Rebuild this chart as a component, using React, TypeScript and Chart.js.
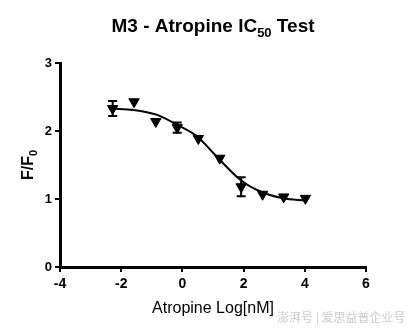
import React, { useEffect, useRef } from "react";
import { Chart, registerables } from "chart.js";

Chart.register(...registerables);

const doseLog = [-2.28, -1.58, -0.87, -0.17, 0.52, 1.22, 1.92, 2.62, 3.31, 4.02];
const meanResponse = [2.33, 2.43, 2.14, 2.05, 1.89, 1.6, 1.18, 1.07, 1.03, 1.01];
const errResponse = [0.11, 0, 0, 0.075, 0, 0, 0.14, 0, 0, 0];

const fitX = [-2.28, -1.6, -0.85, -0.17, 0.48, 1.13, 1.9, 2.55, 3.3, 4.02];
const fitY = [2.33, 2.31, 2.24, 2.09, 1.92, 1.62, 1.28, 1.11, 1.01, 0.975];

const xTicks = [-4, -2, 0, 2, 4, 6];
const yTicks = [0, 1, 2, 3];

const titleMain = "M3 - Atropine IC";
const titleSub = "50";
const titleEnd = " Test";
const xTitle = "Atropine Log[nM]";
const yTitleMain = "F/F";
const yTitleSub = "0";
const watermark = "澎湃号 | 爱思益普企业号";

const FONT = '"Liberation Sans", Arial, sans-serif';

const textPlugin = {
  id: "customText",
  afterDraw(chart: any) {
    const ctx = chart.ctx as CanvasRenderingContext2D;
    const area = chart.chartArea;
    const cx = (area.left + area.right) / 2;
    ctx.save();
    ctx.fillStyle = "#000";
    ctx.textBaseline = "alphabetic";
    ctx.textAlign = "left";
    const big = `bold 19px ${FONT}`;
    const small = `bold 13px ${FONT}`;
    ctx.font = big;
    const w1 = ctx.measureText(titleMain).width;
    const w3 = ctx.measureText(titleEnd).width;
    ctx.font = small;
    const w2 = ctx.measureText(titleSub).width;
    let x = cx - (w1 + w2 + w3) / 2;
    const by = 32;
    ctx.font = big;
    ctx.fillText(titleMain, x, by);
    x += w1;
    ctx.font = small;
    ctx.fillText(titleSub, x, by + 5);
    x += w2;
    ctx.font = big;
    ctx.fillText(titleEnd, x, by);

    ctx.font = `16px ${FONT}`;
    ctx.textAlign = "center";
    ctx.fillText(xTitle, cx, 313);

    ctx.save();
    ctx.translate(33, (area.top + area.bottom) / 2);
    ctx.rotate(-Math.PI / 2);
    ctx.textAlign = "left";
    const yb = `bold 16px ${FONT}`;
    const ys = `bold 11px ${FONT}`;
    ctx.font = yb;
    const a = ctx.measureText(yTitleMain).width;
    ctx.font = ys;
    const b = ctx.measureText(yTitleSub).width;
    let yx = -(a + b) / 2;
    ctx.font = yb;
    ctx.fillText(yTitleMain, yx, 0);
    yx += a;
    ctx.font = ys;
    ctx.fillText(yTitleSub, yx, 4);
    ctx.restore();

    ctx.font = `12px "Noto Sans CJK SC", sans-serif`;
    ctx.fillStyle = "rgba(150,150,150,0.5)";
    ctx.textAlign = "left";
    ctx.fillText(watermark, 277, 322);
    ctx.restore();
  },
};

const errorBarPlugin = {
  id: "errorBars",
  afterDatasetsDraw(chart: any) {
    const ctx = chart.ctx as CanvasRenderingContext2D;
    const xs = chart.scales.x;
    const ys = chart.scales.y;
    ctx.save();
    ctx.strokeStyle = "#000";
    ctx.lineWidth = 2;
    doseLog.forEach((d, i) => {
      const e = errResponse[i];
      if (!e) return;
      const px = xs.getPixelForValue(d);
      const top = ys.getPixelForValue(meanResponse[i] + e);
      const bot = ys.getPixelForValue(meanResponse[i] - e);
      ctx.beginPath();
      ctx.moveTo(px, top);
      ctx.lineTo(px, bot);
      ctx.moveTo(px - 4.5, top);
      ctx.lineTo(px + 4.5, top);
      ctx.moveTo(px - 4.5, bot);
      ctx.lineTo(px + 4.5, bot);
      ctx.stroke();
    });
    ctx.restore();
  },
};

export default function App() {
  const ref = useRef<HTMLCanvasElement | null>(null);
  useEffect(() => {
    document.body.style.margin = "0";
    if (!ref.current) return;
    const chart = new Chart(ref.current, {
      type: "line",
      data: {
        datasets: [
          {
            label: "fit",
            data: fitX.map((x, i) => ({ x, y: fitY[i] })),
            borderColor: "#000",
            borderWidth: 2,
            pointRadius: 0,
            cubicInterpolationMode: "monotone",
            fill: false,
          },
          {
            label: "data",
            data: doseLog.map((x, i) => ({ x, y: meanResponse[i] })),
            showLine: false,
            pointStyle: "triangle",
            rotation: 180,
            pointRadius: 6,
            backgroundColor: "#000",
            borderColor: "#000",
            borderWidth: 1,
          },
        ],
      },
      options: {
        animation: false,
        responsive: false,
        events: [],
        layout: { padding: { top: 63, right: 49, bottom: 0, left: 0 } },
        plugins: { legend: { display: false }, tooltip: { enabled: false }, title: { display: false } },
        scales: {
          x: {
            type: "linear",
            min: -4,
            max: 6,
            afterFit: (s: any) => {
              s.height = 68;
            },
            afterBuildTicks: (s: any) => {
              s.ticks = xTicks.map((v) => ({ value: v }));
            },
            grid: { display: true, drawOnChartArea: false, drawTicks: true, tickLength: 5, color: "#000", lineWidth: 2 },
            border: { display: true, color: "#000", width: 3 },
            ticks: { color: "#000", font: { family: FONT, size: 14, weight: "bold" }, padding: 4, maxRotation: 0 },
          },
          y: {
            type: "linear",
            min: 0,
            max: 3,
            afterFit: (s: any) => {
              s.width = 60;
            },
            afterBuildTicks: (s: any) => {
              s.ticks = yTicks.map((v) => ({ value: v }));
            },
            grid: { display: true, drawOnChartArea: false, drawTicks: true, tickLength: 5, color: "#000", lineWidth: 2 },
            border: { display: true, color: "#000", width: 3 },
            ticks: { color: "#000", font: { family: FONT, size: 13, weight: "bold" }, padding: 3 },
          },
        },
      },
      plugins: [errorBarPlugin, textPlugin],
    } as any);
    return () => chart.destroy();
  }, []);
  return (
    <div style={{ width: 415, height: 335, background: "#fff" }}>
      <canvas ref={ref} width={415} height={335} style={{ display: "block" }} />
    </div>
  );
}
